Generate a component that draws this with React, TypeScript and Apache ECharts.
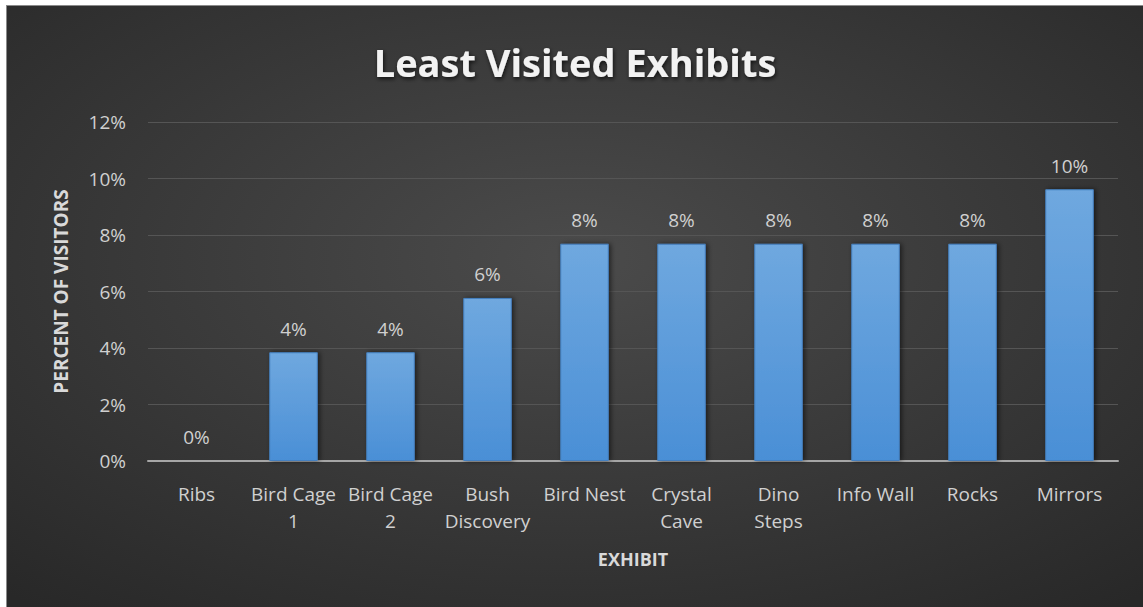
import React, { useEffect, useRef } from "react";
import * as echarts from "echarts";

const categories = [
  "Ribs",
  "Bird Cage\n1",
  "Bird Cage\n2",
  "Bush\nDiscovery",
  "Bird Nest",
  "Crystal\nCave",
  "Dino\nSteps",
  "Info Wall",
  "Rocks",
  "Mirrors",
];
const percentOfVisitors = [0, 3.85, 3.85, 5.77, 7.69, 7.69, 7.69, 7.69, 7.69, 9.62];
const yTicks = { min: 0, max: 12, interval: 2 };

export default function App() {
  const ref = useRef<HTMLDivElement>(null);
  useEffect(() => {
    if (!ref.current) return;
    const chart = echarts.init(ref.current, null, { renderer: "svg" });
    const font = "'Open Sans', sans-serif";
    chart.setOption({
      animation: false,
      backgroundColor: {
        type: "radial",
        x: 0.5,
        y: 0.42,
        r: 0.75,
        colorStops: [
          { offset: 0, color: "#4b4b4b" },
          { offset: 1, color: "#282828" },
        ],
      },
      title: {
        text: "Least Visited Exhibits",
        left: "center",
        top: 32,
        textStyle: {
          color: "#f2f2f2",
          fontFamily: font,
          fontWeight: "bold",
          fontSize: 38,
          textShadowColor: "rgba(0,0,0,0.7)",
          textShadowBlur: 4,
          textShadowOffsetX: 1,
          textShadowOffsetY: 2,
        },
      },
      grid: { left: 141, right: 25, top: 116, bottom: 146, containLabel: false },
      xAxis: {
        type: "category",
        data: categories,
        name: "EXHIBIT",
        nameLocation: "middle",
        nameGap: 89,
        nameTextStyle: { color: "#d9d9d9", fontFamily: font, fontWeight: "bold", fontSize: 18 },
        axisLine: { lineStyle: { color: "#a6a6a6", width: 2 } },
        axisTick: { show: false },
        axisLabel: {
          interval: 0,
          color: "#d0d0d0",
          fontFamily: font,
          fontSize: 19,
          lineHeight: 27,
          margin: 19,
        },
      },
      yAxis: {
        type: "value",
        min: yTicks.min,
        max: yTicks.max,
        interval: yTicks.interval,
        name: "PERCENT OF VISITORS",
        nameLocation: "middle",
        nameGap: 78,
        nameTextStyle: { color: "#d9d9d9", fontFamily: font, fontWeight: "bold", fontSize: 19 },
        axisLine: { show: false },
        axisTick: { show: false },
        axisLabel: {
          color: "#d0d0d0",
          fontFamily: font,
          fontSize: 19,
          margin: 22,
          formatter: (v: number) => v + "%",
        },
        splitLine: { lineStyle: { color: "#555555", width: 1 } },
      },
      series: [
        {
          type: "bar",
          data: percentOfVisitors,
          barCategoryGap: "50%",
          itemStyle: {
            color: {
              type: "linear",
              x: 0,
              y: 0,
              x2: 0,
              y2: 1,
              colorStops: [
                { offset: 0, color: "#6fa8df" },
                { offset: 1, color: "#4a8fd6" },
              ],
            },
            borderColor: "#4580c0",
            borderWidth: 1,
            shadowColor: "rgba(0,0,0,0.55)",
            shadowBlur: 5,
            shadowOffsetX: 2,
            shadowOffsetY: 0,
          },
          label: {
            show: true,
            position: "top",
            distance: 14,
            color: "#d0d0d0",
            fontFamily: font,
            fontSize: 19,
            formatter: (p: any) => Math.round(p.value) + "%",
          },
        },
      ],
    });
    return () => chart.dispose();
  }, []);
  return (
    <div style={{ position: "fixed", left: 0, top: 0, width: 1143, height: 607, background: "#ffffff" }}>
      <div
        style={{
          position: "absolute",
          left: 6,
          top: 5,
          width: 1137,
          height: 602,
          borderTop: "1px solid #8a8a8a",
          borderLeft: "1px solid #8a8a8a",
          boxSizing: "border-box",
        }}
      >
        <div ref={ref} style={{ width: 1136, height: 601 }} />
      </div>
    </div>
  );
}
